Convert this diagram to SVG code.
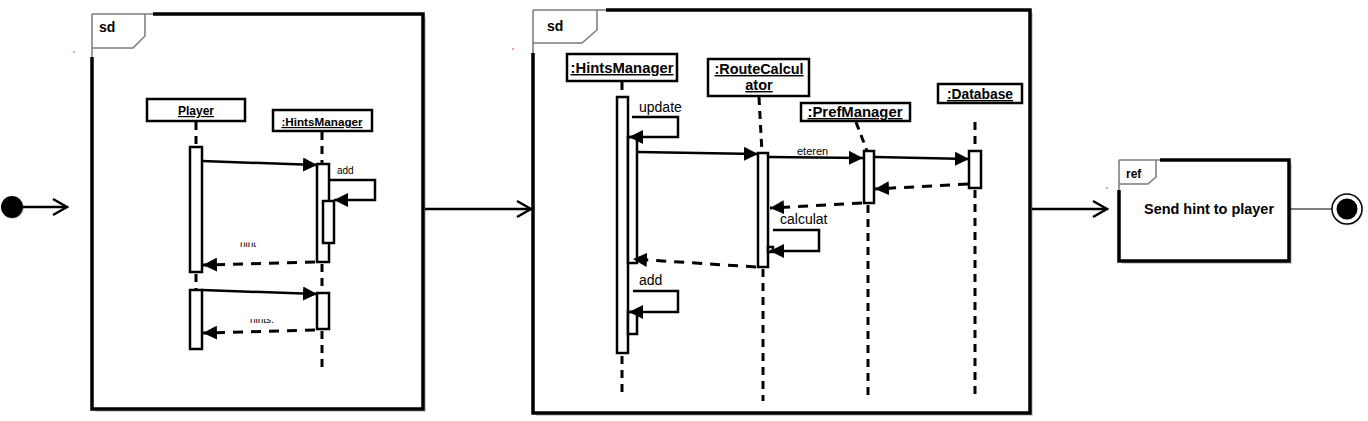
<svg xmlns="http://www.w3.org/2000/svg" width="1368" height="421" viewBox="0 0 1368 421">
<style>
.frame{fill:#fff;stroke:#000;stroke-width:3.5}
.shadow{fill:#cfcfcf}
.tabcover{fill:#fff;stroke:none}
.thin{fill:none;stroke:#7a7a7a;stroke-width:1.5}
.obj{fill:#fff;stroke:#000;stroke-width:2.5}
.act{fill:#fff;stroke:#000;stroke-width:2.5}
.life{stroke:#000;stroke-width:3;stroke-dasharray:8 6;fill:none}
.msg{stroke:#000;stroke-width:2.5;fill:none}
.ret{stroke:#000;stroke-width:3;stroke-dasharray:10 8;fill:none}
.lbl{font-family:"Liberation Sans",Arial,sans-serif;font-weight:bold;fill:#000}
.txt{font-family:"Liberation Sans",Arial,sans-serif;fill:#000}
</style>
<defs>
<marker id="tri" viewBox="0 0 14 14" refX="14" refY="7" markerWidth="14" markerHeight="14" markerUnits="userSpaceOnUse" orient="auto"><path d="M0,0 L14,7 L0,14 z" fill="#000"/></marker>
<marker id="open" viewBox="-2 -2 18 20" refX="14" refY="8" markerWidth="18" markerHeight="20" markerUnits="userSpaceOnUse" orient="auto"><path d="M0,0 L14,8 L0,16" fill="none" stroke="#000" stroke-width="2.5"/></marker>
<clipPath id="c1"><rect x="230" y="242.5" width="50" height="5"/></clipPath>
<clipPath id="c2"><rect x="240" y="319" width="50" height="5"/></clipPath>
</defs>
<rect width="1368" height="421" fill="#fff"/>

<!-- red specks -->
<circle cx="74" cy="52" r="1" fill="#f08080"/>
<circle cx="513" cy="49" r="1" fill="#f08080"/>
<circle cx="1107" cy="188" r="1" fill="#f08080"/>

<g id="start">
<circle cx="13" cy="208" r="11" fill="#bbb" opacity="0.6"/>
<circle cx="12" cy="207" r="11" fill="#000"/>
</g>

<g id="frame1">
<rect class="shadow" x="95" y="17" width="331" height="395"/>
<rect class="frame" x="92" y="14" width="331" height="395"/>
<rect class="tabcover" x="90" y="12" width="63" height="45"/>
<path class="thin" d="M92,14 L153,14 M92,14 L92,57"/>
<path class="thin" d="M92,48 L133,48 L145,36 L145,14"/>
<text class="lbl" x="99" y="32" font-size="14">sd</text>
</g>

<g id="player1">
<rect class="obj" x="147" y="99" width="98" height="22"/>
<text class="lbl" x="196" y="115" font-size="12" text-anchor="middle" text-decoration="underline">Player</text>
<line class="life" x1="196" y1="122" x2="196" y2="147"/>
<line class="life" x1="196" y1="274" x2="196" y2="290"/>
<rect class="act" x="190" y="147" width="12" height="125"/>
<rect class="act" x="190" y="290" width="12" height="59"/>
</g>

<g id="hints1">
<rect class="obj" x="273" y="110" width="99" height="21"/>
<text class="lbl" x="322" y="126" font-size="11.7" text-anchor="middle" text-decoration="underline">:HintsManager</text>
<line class="life" x1="322" y1="132" x2="322" y2="164"/>
<line class="life" x1="322" y1="264" x2="322" y2="293"/>
<line class="life" x1="322" y1="331" x2="322" y2="369"/>
<rect class="act" x="317" y="164" width="12" height="98"/>
<rect class="act" x="323" y="201" width="11" height="42"/>
<rect class="act" x="317" y="293" width="12" height="36"/>
</g>

<g id="frame2">
<rect class="shadow" x="536" y="13" width="497" height="403"/>
<rect class="frame" x="533" y="10" width="497" height="403"/>
<rect class="tabcover" x="531" y="8" width="75" height="45"/>
<path class="thin" d="M533,10 L606,10 M533,10 L533,53"/>
<path class="thin" d="M533,43 L582,43 L597,30 L597,10"/>
<text class="lbl" x="547" y="31" font-size="14">sd</text>
</g>

<g id="hints2">
<rect class="obj" x="567" y="54" width="110" height="27"/>
<text class="lbl" x="622" y="73" font-size="14.5" text-anchor="middle" text-decoration="underline" textLength="103" lengthAdjust="spacingAndGlyphs">:HintsManager</text>
<line class="life" x1="622" y1="82" x2="622" y2="97"/>
<line class="life" x1="622" y1="356" x2="622" y2="393"/>
<rect class="act" x="617" y="97" width="11" height="256"/>
<rect class="act" x="628" y="137" width="9" height="126"/>
<rect class="act" x="628" y="312" width="9" height="22"/>
</g>

<g id="route">
<rect class="obj" x="708" y="59" width="101" height="37"/>
<text class="lbl" x="759" y="74" font-size="14.5" text-anchor="middle" text-decoration="underline" textLength="89" lengthAdjust="spacingAndGlyphs">:RouteCalcul</text>
<text class="lbl" x="759" y="90" font-size="14.5" text-anchor="middle" text-decoration="underline">ator</text>
<line class="life" x1="759" y1="97" x2="762" y2="153"/>
<line class="life" x1="763" y1="269" x2="763" y2="401"/>
<rect class="act" x="758" y="153" width="10" height="114"/>
<rect class="act" x="768" y="247" width="5" height="5" stroke-width="1.5"/>
</g>

<g id="pref">
<rect class="obj" x="801" y="103" width="109" height="18"/>
<text class="lbl" x="855" y="117" font-size="14" text-anchor="middle" text-decoration="underline" textLength="95" lengthAdjust="spacingAndGlyphs">:PrefManager</text>
<line class="life" x1="856" y1="122" x2="867" y2="151"/>
<line class="life" x1="868" y1="205" x2="868" y2="401"/>
<rect class="act" x="864" y="151" width="10" height="52"/>
</g>

<g id="database">
<rect class="obj" x="938" y="84" width="84" height="19"/>
<text class="lbl" x="980" y="99" font-size="14" text-anchor="middle" text-decoration="underline" textLength="66" lengthAdjust="spacingAndGlyphs">:Database</text>
<line class="life" x1="975" y1="122" x2="975" y2="151"/>
<line class="life" x1="975" y1="190" x2="975" y2="394"/>
<rect class="act" x="969" y="151" width="12" height="37"/>
</g>

<g id="ref">
<rect class="shadow" x="1122" y="163" width="170" height="101"/>
<rect class="frame" x="1119" y="160" width="170" height="101" stroke-width="3"/>
<rect class="tabcover" x="1117" y="158" width="43" height="32"/>
<path class="thin" d="M1119,160 L1160,160 M1119,160 L1119,190"/>
<path class="thin" d="M1119,184 L1148,184 L1156,177 L1156,160"/>
<text class="lbl" x="1126" y="178" font-size="12">ref</text>
<text class="lbl" x="1209" y="214" font-size="14.5" text-anchor="middle" textLength="130" lengthAdjust="spacingAndGlyphs">Send hint to player</text>
</g>

<g id="end">
<circle cx="1348" cy="210" r="15.5" fill="#ccc" opacity="0.6"/>
<circle cx="1347" cy="209" r="15" fill="#fff" stroke="#000" stroke-width="1.5"/>
<circle cx="1347" cy="209" r="10.5" fill="#000"/>
</g>

<g id="connectors">
<line class="msg" x1="23" y1="207" x2="67" y2="207" marker-end="url(#open)"/>
<line class="msg" x1="425" y1="209" x2="531" y2="209" marker-end="url(#open)"/>
<line class="msg" x1="1032" y1="209" x2="1107" y2="209" marker-end="url(#open)"/>
<line x1="1290" y1="209" x2="1332" y2="209" stroke="#000" stroke-width="1.2"/>

<!-- frame 1 messages -->
<line class="msg" x1="202" y1="161" x2="317" y2="165" marker-end="url(#tri)"/>
<polyline class="msg" points="329,180 375,180 375,200 334,200" marker-end="url(#tri)"/>
<text class="txt" x="337" y="174" font-size="10">add</text>
<line class="ret" x1="315" y1="262" x2="203" y2="265" marker-end="url(#tri)"/>
<text class="txt" x="240" y="247" font-size="10" clip-path="url(#c1)">hint</text>
<line class="msg" x1="202" y1="290" x2="317" y2="294" marker-end="url(#tri)"/>
<line class="ret" x1="315" y1="330" x2="203" y2="333" marker-end="url(#tri)"/>
<text class="txt" x="250" y="323" font-size="10" clip-path="url(#c2)">hints.</text>

<!-- frame 2 messages -->
<polyline class="msg" points="632,117 678,117 678,137 629,137" marker-end="url(#tri)"/>
<text class="txt" x="639" y="112" font-size="14">update</text>
<line class="msg" x1="637" y1="152" x2="758" y2="154" marker-end="url(#tri)"/>
<line class="msg" x1="769" y1="157" x2="863" y2="158" marker-end="url(#tri)"/>
<text class="txt" x="797" y="155" font-size="11">eteren</text>
<line class="msg" x1="875" y1="157" x2="969" y2="159" marker-end="url(#tri)"/>
<line class="ret" x1="968" y1="184" x2="875" y2="189" marker-end="url(#tri)"/>
<line class="ret" x1="862" y1="203" x2="770" y2="208" marker-end="url(#tri)"/>
<polyline class="msg" points="773,230 819,230 819,251 770,251" marker-end="url(#tri)"/>
<text class="txt" x="780" y="224" font-size="14">calculat</text>
<line class="ret" x1="756" y1="267" x2="633" y2="259" marker-end="url(#tri)"/>
<polyline class="msg" points="633,291 678,291 678,312 629,312" marker-end="url(#tri)"/>
<text class="txt" x="639" y="285" font-size="14">add</text>
</g>
</svg>
